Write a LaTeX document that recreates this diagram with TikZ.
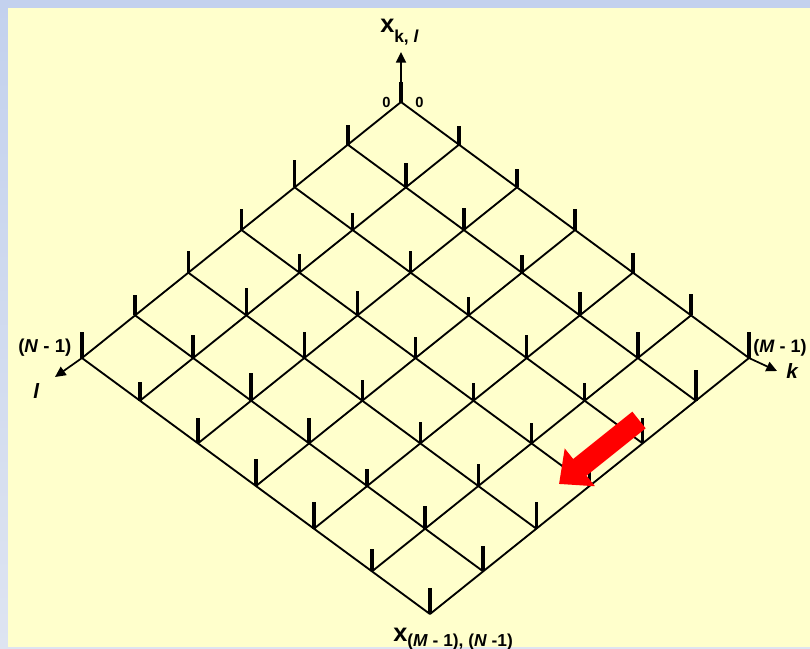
\documentclass[tikz,border=0pt]{standalone}
\usepackage{fontspec}
\setmainfont{Liberation Sans}
\usetikzlibrary{arrows.meta}
\definecolor{paper}{HTML}{FFFFCC}
\definecolor{frametop}{HTML}{C3D1EE}
\definecolor{framebot}{HTML}{DEE4F1}
\definecolor{hint}{HTML}{FF0000}
\tikzset{
  gridline/.style={line width=1.4pt, draw=black},
  stem/.style={line width=2.6pt, draw=black},
  axis/.style={-{Triangle[length=8pt,width=7.5pt]}, line width=1.3pt, draw=black},
  hintarr/.style={-{Triangle[length=20pt,width=35pt]}, line width=16pt, draw=hint},
  lab/.style={inner sep=0pt, anchor=base west, font=\bfseries\fontsize{14}{15}\selectfont},
  biglab/.style={lab, font=\bfseries\itshape\fontsize{15.5}{17}\selectfont},
  zerolab/.style={lab, font=\bfseries\fontsize{11}{12}\selectfont},
  xlab/.style={lab, font=\bfseries\fontsize{19}{20}\selectfont}
}

\begin{document}
\begin{tikzpicture}[x=0.75pt,y=-0.75pt]
  \useasboundingbox (0,0) rectangle (810,649);
  \shade[top color=frametop, bottom color=framebot] (0,0) rectangle (810,649);
  \fill[paper] (8,8) rectangle (810,647);

  % grid points, k to the lower right, l to the lower left
  \foreach \m in {0,...,6} {
    \foreach \n in {0,...,6} {
      \coordinate (g-\m-\n) at ({401+58*\m-53.17*\n},{102+42.67*(\m+\n)});
    }
  }
  \foreach \i in {0,...,6} {
    \draw[gridline] (g-\i-0) -- (g-\i-6);
    \draw[gridline] (g-0-\i) -- (g-6-\i);
  }

  % axes
  \coordinate (xtip) at (401,52);
  \coordinate (ltip) at (55,377);
  \coordinate (ktip) at (777,371);
  \draw[axis] (g-0-0) -- (xtip);
  \draw[axis] (g-0-6) -- (ltip);
  \draw[axis] (g-6-0) -- (ktip);

  % samples
  \foreach \m/\hs in {0/{20,20,27,21,22,20,26}, 1/{19,24,17,19,27,23,19},
      2/{18,22,22,24,26,28,25}, 3/{21,18,18,21,21,25,27}, 4/{20,23,23,18,21,17,27},
      5/{21,26,18,20,22,23,22}, 6/{26,31,25,25,27,25,26}} {
    \foreach \h [count=\n from 0] in \hs {
      \draw[stem] (g-\m-\n) -- ++(0,-\h);
    }
  }

  \node[xlab] (xtop) at (380,33) {x\raisebox{-7pt}{\fontsize{13}{14}\selectfont k, \textit{l}}};
  \node[zerolab] (zleft) at (382,108) {0};
  \node[zerolab] (zright) at (415,108) {0};
  \node[lab] (nlab) at (18,352) {(\textit{N} - 1)};
  \node[biglab] (llab) at (33,398) {l};
  \node[lab, font=\bfseries\fontsize{13.5}{15}\selectfont] (mlab) at (753,352) {(\textit{M} - 1)};
  \node[biglab] (klab) at (786,378) {k};
  \node[xlab] (xbot) at (393,641) {x\raisebox{-4pt}{\fontsize{13}{14}\selectfont (\textit{M} - 1), (\textit{N} -1)}};

  % scan direction
  \coordinate (rtail) at (639,420);
  \coordinate (rtip) at (559,484);
  \draw[hintarr] (rtail) -- (rtip);
\end{tikzpicture}
\end{document}
